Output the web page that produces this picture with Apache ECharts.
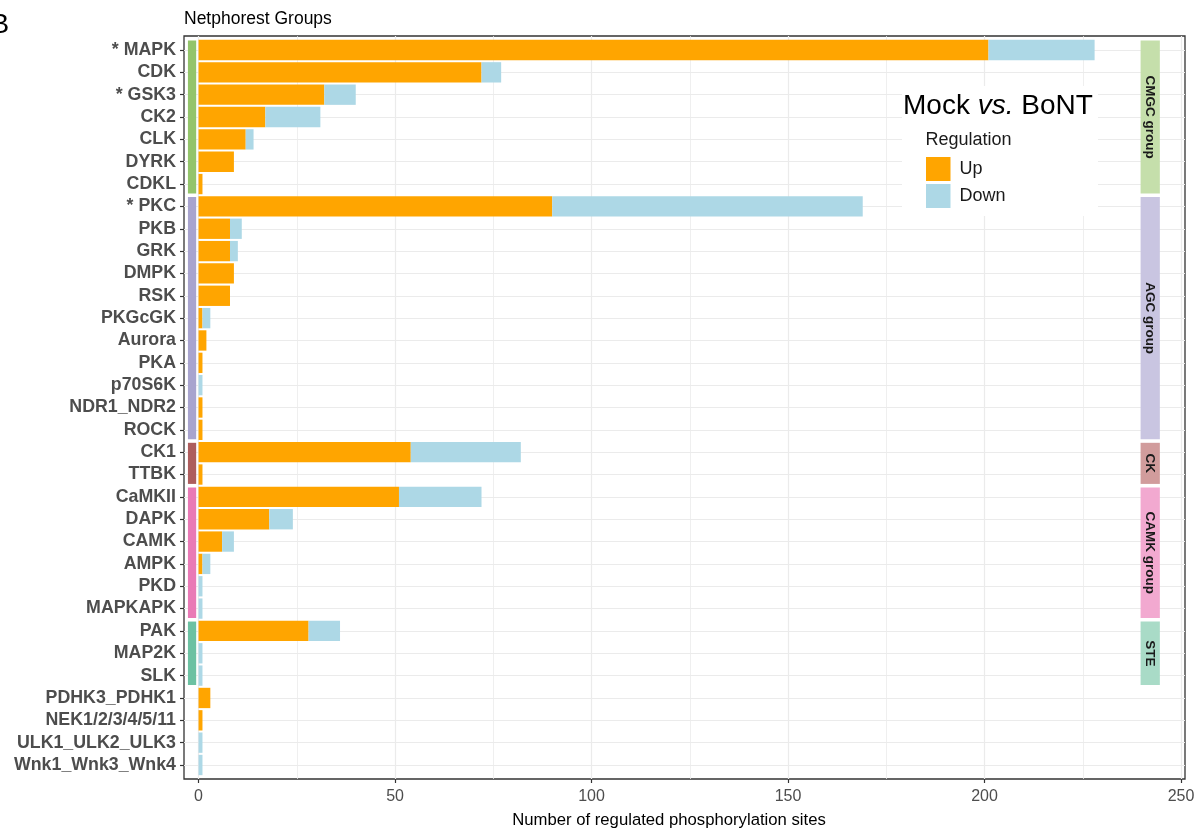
<!DOCTYPE html>
<html>
<head>
<meta charset="utf-8">
<script src="https://cdn.jsdelivr.net/npm/echarts@6/dist/echarts.min.js"></script>
<style>
  html, body { margin: 0; padding: 0; background: #fff; }
  #chart { width: 1204px; height: 835px; }
</style>
</head>
<body>
<div id="chart"></div>
<script>
// Kinase families (top to bottom)
const CATEGORIES = ['* MAPK', 'CDK', '* GSK3', 'CK2', 'CLK', 'DYRK', 'CDKL',
  '* PKC', 'PKB', 'GRK', 'DMPK', 'RSK', 'PKGcGK', 'Aurora', 'PKA', 'p70S6K', 'NDR1_NDR2', 'ROCK',
  'CK1', 'TTBK',
  'CaMKII', 'DAPK', 'CAMK', 'AMPK', 'PKD', 'MAPKAPK',
  'PAK', 'MAP2K', 'SLK',
  'PDHK3_PDHK1', 'NEK1/2/3/4/5/11', 'ULK1_ULK2_ULK3', 'Wnk1_Wnk3_Wnk4'];

// Number of up- and down-regulated phosphorylation sites per family
const UP_SITES = [201, 72, 32, 17, 12, 9, 1,
  90, 8, 8, 9, 8, 1, 2, 1, 0, 1, 1,
  54, 1,
  51, 18, 6, 1, 0, 0,
  28, 0, 0,
  3, 1, 0, 0];
const DOWN_SITES = [27, 5, 8, 14, 2, 0, 0,
  79, 3, 2, 0, 0, 2, 0, 0, 1, 0, 0,
  28, 0,
  21, 6, 3, 2, 1, 1,
  8, 1, 1,
  0, 0, 1, 1];

// Netphorest groups: label and first/last row index
const GROUP_LABELS = ['CMGC group', 'AGC group', 'CK', 'CAMK group', 'STE'];
const GROUP_FIRST = [0, 7, 18, 20, 26];
const GROUP_LAST = [6, 17, 19, 25, 28];
const GROUP_DARK = ['#93c46b', '#a8a4ce', '#ad5d5d', '#e97ab6', '#6cc1a2'];
const GROUP_LIGHT = ['#c5dfab', '#c9c5e1', '#d19c9c', '#f2a9d0', '#a9dbc7'];

// Axis ticks
const X_TICKS = [0, 50, 100, 150, 200, 250];
const X_MINOR = [25, 75, 125, 175, 225];

const SERIES_NAMES = ['Up', 'Down'];
const COLORS = ['#FFA500', '#ADD8E6'];

// Layout
const FONT = "'Liberation Sans', Arial, Helvetica, sans-serif";
const PANEL = { left: 184, top: 36, width: 1001, height: 743 };
const ROWS_TOP = 50, ROWS_HEIGHT = 715;
const X_MIN = -3.7, X_MAX = 251;
const LEFT_STRIP = [-2.7, -0.6];
const RIGHT_STRIP = [239.7, 244.6];
const STRIP_HALF = 0.42;

const chart = echarts.init(document.getElementById('chart'), null, { renderer: 'canvas' });

function stripItem(xRange, colors, withText) {
  return function (params, api) {
    const i = params.dataIndex;
    const a = api.coord([xRange[0], GROUP_FIRST[i]]);
    const b = api.coord([xRange[1], GROUP_LAST[i]]);
    const band = Math.abs(api.coord([0, 1])[1] - api.coord([0, 0])[1]);
    const y0 = a[1] - STRIP_HALF * band;
    const y1 = b[1] + STRIP_HALF * band;
    const children = [{
      type: 'rect',
      shape: { x: a[0], y: y0, width: b[0] - a[0], height: y1 - y0 },
      style: { fill: colors[i] }
    }];
    if (withText) {
      children.push({
        type: 'text',
        x: (a[0] + b[0]) / 2,
        y: (y0 + y1) / 2,
        rotation: -Math.PI / 2,
        style: {
          text: GROUP_LABELS[i],
          align: 'center',
          verticalAlign: 'middle',
          fontSize: 13.5,
          fontWeight: 'bold',
          fontFamily: FONT,
          fill: '#1a1a1a'
        }
      });
    }
    return { type: 'group', children: children };
  };
}

const gridLineData = X_TICKS.map(v => ({ xAxis: v, lineStyle: { width: 1.2 } }))
  .concat(X_MINOR.map(v => ({ xAxis: v, lineStyle: { width: 0.8 } })));

const option = {
  animation: false,
  backgroundColor: '#ffffff',
  textStyle: { fontFamily: FONT },
  grid: [
    { left: PANEL.left, top: PANEL.top, width: PANEL.width, height: PANEL.height,
      show: true, borderColor: '#333333', borderWidth: 1.3, backgroundColor: 'transparent' },
    { left: PANEL.left, top: ROWS_TOP, width: PANEL.width, height: ROWS_HEIGHT }
  ],
  xAxis: [
    {
      gridIndex: 0, type: 'value', min: X_MIN, max: X_MAX,
      axisLine: { show: false, onZero: false },
      splitLine: { show: false },
      axisTick: { show: true, customValues: X_TICKS, length: 4, lineStyle: { color: '#333333', width: 1.2 } },
      axisLabel: { customValues: X_TICKS, fontSize: 16, color: '#4d4d4d', margin: 10, fontFamily: FONT }
    },
    {
      gridIndex: 1, type: 'value', min: X_MIN, max: X_MAX, show: false,
      axisLine: { onZero: false },
      splitLine: { show: false }
    }
  ],
  yAxis: [
    { gridIndex: 0, type: 'value', min: 0, max: 1, show: false, axisLine: { onZero: false }, splitLine: { show: false } },
    {
      gridIndex: 1, type: 'category', data: CATEGORIES, inverse: true, boundaryGap: false,
      axisLine: { show: false, onZero: false },
      axisTick: { show: true, length: 4, lineStyle: { color: '#333333', width: 1.2 } },
      axisLabel: { fontSize: 17.8, fontWeight: 'bold', color: '#4d4d4d', margin: 8, fontFamily: FONT, interval: 0 },
      splitLine: { show: true, lineStyle: { color: '#ebebeb', width: 1.2 } }
    }
  ],
  legend: {
    data: SERIES_NAMES,
    orient: 'vertical',
    left: 926, top: 157,
    padding: 0,
    itemWidth: 24.5, itemHeight: 24, itemGap: 3,
    icon: 'rect',
    selectedMode: false,
    z: 8,
    textStyle: { fontSize: 18, color: '#1a1a1a', fontFamily: FONT, padding: [0, 0, 0, 4] }
  },
  graphic: [
    { type: 'rect', z: 3, shape: { x: 902, y: 86, width: 196, height: 130 }, style: { fill: '#ffffff' } },
    { type: 'text', z: 7, x: 903, y: 106.5, style: {
        text: '{n|Mock }{i|vs.}{n| BoNT}', verticalAlign: 'middle',
        rich: {
          n: { fontSize: 28, fontFamily: FONT, fill: '#000000' },
          i: { fontSize: 28, fontFamily: FONT, fontStyle: 'italic', fill: '#000000' }
        } } },
    { type: 'text', z: 7, x: 925.5, y: 140, style: { text: 'Regulation', fontSize: 18, fontFamily: FONT, fill: '#1a1a1a', verticalAlign: 'middle' } },
    { type: 'text', z: 7, x: 184, y: 18.7, style: { text: 'Netphorest Groups', fontSize: 17.5, fontFamily: FONT, fill: '#000000', verticalAlign: 'middle' } },
    { type: 'text', z: 7, x: -9.5, y: 25.7, style: { text: 'B', fontSize: 28, fontFamily: FONT, fill: '#000000', verticalAlign: 'middle' } },
    { type: 'text', z: 7, x: 669, y: 820, style: { text: 'Number of regulated phosphorylation sites', fontSize: 16.7, fontFamily: FONT, fill: '#000000', align: 'center', verticalAlign: 'middle' } }
  ],
  series: [
    {
      // vertical grid lines across the whole panel, kept under the bars
      type: 'line', xAxisIndex: 0, yAxisIndex: 0, data: [], z: 1, silent: true,
      markLine: {
        silent: true, z: 1, symbol: ['none', 'none'], label: { show: false },
        lineStyle: { color: '#ebebeb', type: 'solid' },
        data: gridLineData
      }
    },
    {
      name: SERIES_NAMES[0], type: 'bar', stack: 'sites', xAxisIndex: 1, yAxisIndex: 1,
      data: UP_SITES, barWidth: '91%', clip: false, z: 2,
      itemStyle: { color: COLORS[0] }
    },
    {
      name: SERIES_NAMES[1], type: 'bar', stack: 'sites', xAxisIndex: 1, yAxisIndex: 1,
      data: DOWN_SITES, barWidth: '91%', clip: false, z: 2,
      itemStyle: { color: COLORS[1] }
    },
    {
      type: 'custom', xAxisIndex: 1, yAxisIndex: 1, z: 3, silent: true,
      renderItem: stripItem(LEFT_STRIP, GROUP_DARK, false),
      data: GROUP_FIRST.map(r => [LEFT_STRIP[0], r])
    },
    {
      type: 'custom', xAxisIndex: 1, yAxisIndex: 1, z: 3, silent: true,
      renderItem: stripItem(RIGHT_STRIP, GROUP_LIGHT, true),
      data: GROUP_FIRST.map(r => [RIGHT_STRIP[0], r])
    }
  ]
};

chart.setOption(option);
</script>
</body>
</html>
